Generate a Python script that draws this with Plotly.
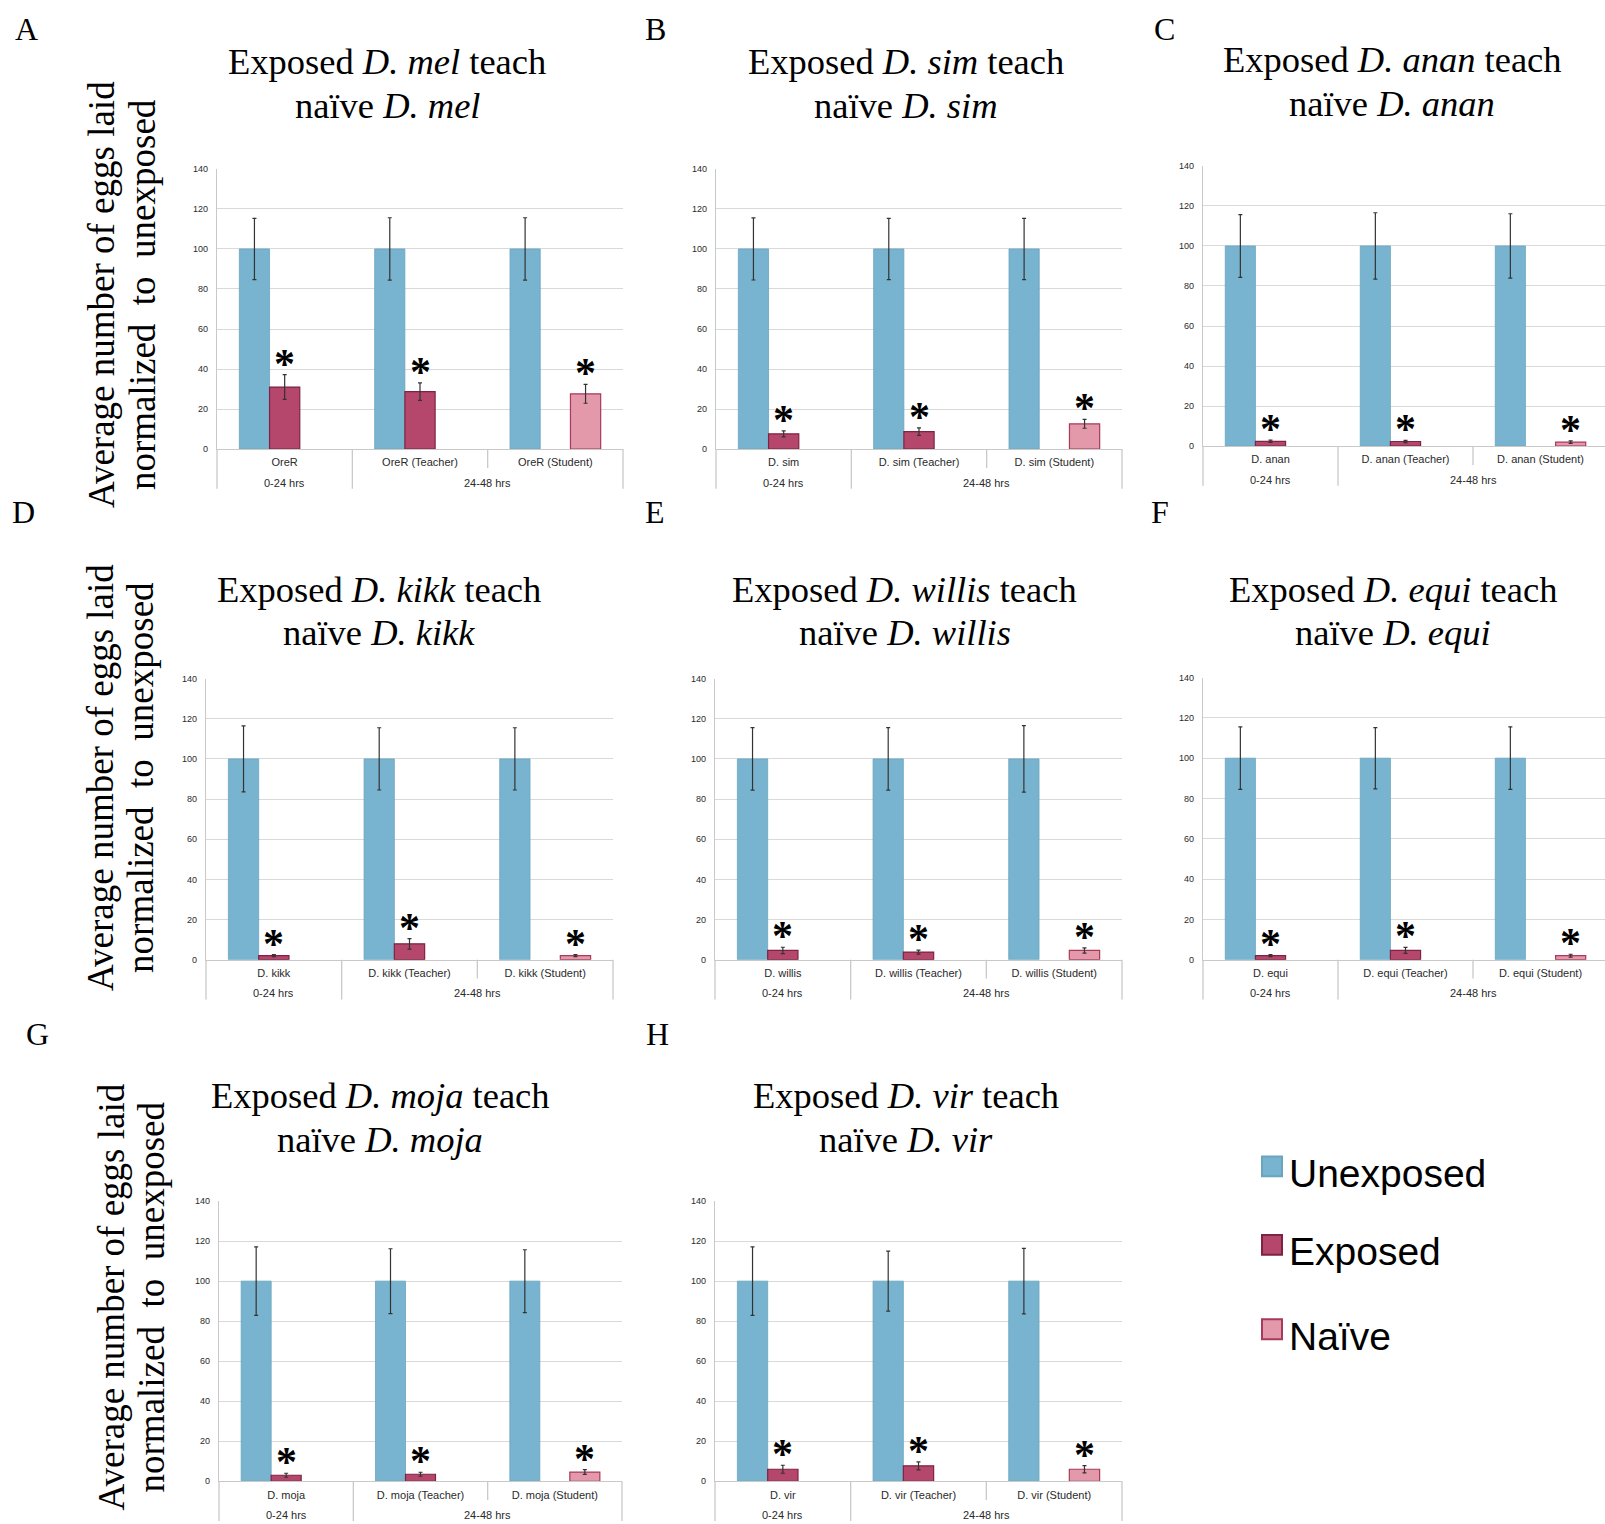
import plotly.graph_objects as go

FIG_W, FIG_H = 1605, 1524

# ---------------------------------------------------------------- data
panel_letters = ["A", "B", "C", "D", "E", "F", "G", "H"]
title_species = ["D. mel", "D. sim", "D. anan", "D. kikk",
                 "D. willis", "D. equi", "D. moja", "D. vir"]
strain_labels = ["OreR", "D. sim", "D. anan", "D. kikk",
                 "D. willis", "D. equi", "D. moja", "D. vir"]
role_suffixes = ["", " (Teacher)", " (Student)"]
time_windows = ["0-24 hrs", "24-48 hrs"]          # outer category row
time_window_span = [[0, 0], [1, 2]]                # categories under each window

# eggs laid, normalized to the unexposed condition (= 100)
unexposed = [
    [100, 100, 100], [100, 100, 100], [100, 100, 100], [100, 100, 100],
    [100, 100, 100], [100, 100, 100], [100, 100, 100], [100, 100, 100],
]
unexposed_err = [
    [15.3, 15.6, 15.6],
    [15.5, 15.3, 15.3],
    [15.7, 16.6, 16.1],
    [16.4, 15.5, 15.5],
    [15.6, 15.6, 16.6],
    [15.5, 15.2, 15.5],
    [17.1, 16.2, 15.7],
    [17.1, 15.0, 16.4],
]
# exposed flies: 0-24 hrs and 24-48 hrs (teacher)
exposed = [[31.0, 28.7], [7.6, 8.7], [2.4, 2.3], [2.0, 7.9],
           [4.6, 3.8], [2.0, 4.6], [3.0, 3.5], [6.0, 7.7]]
exposed_err = [[6.2, 4.4], [1.5, 1.9], [0.6, 0.6], [0.5, 2.6],
               [1.6, 1.0], [0.5, 1.5], [1.0, 1.0], [2.0, 2.0]]
# naive flies taught by the exposed teachers (student)
naive = [27.6, 12.6, 2.0, 2.0, 4.6, 2.0, 4.6, 6.0]
naive_err = [4.7, 2.2, 0.6, 0.5, 1.3, 0.7, 1.2, 1.8]

legend_names = ["Unexposed", "Exposed", "Naïve"]

# ---------------------------------------------------------------- style
BLUE, BLUE_EDGE = "#78b4cf", "#6aa4bf"
RED, RED_EDGE = "#b4476b", "#7d2343"
PINK, PINK_EDGE = "#e399aa", "#a83a5c"
AXIS_GREY = "#c9c9c9"
GRID_GREY = "#d9d9d9"
ERR_COLOR = "#333333"
LABEL_COLOR = "#2a2a2a"
SERIF = "Liberation Serif, Times New Roman, serif"
SANS = "Liberation Sans, Arial, Helvetica, sans-serif"
BARGAP = 0.33
SLOT = (1 - BARGAP) / 3

# plot-area boxes in pixels: (left, right, top, bottom)
plot_boxes = [
    (217, 623, 165, 447),
    (716, 1122, 165, 447),
    (1203, 1608, 162, 444),
    (206, 613, 678, 961),
    (715, 1122, 678, 961),
    (1203, 1608, 677, 961),
    (219, 622, 1204, 1486),
    (715, 1122, 1204, 1486),
]
title_centers = [(387, 57), (906, 57), (1392, 55),
                 (379, 588), (905, 588), (1393, 588),
                 (380, 1098), (906, 1098)]
letter_pos = [(26, 24), (655, 24), (1164, 24),
              (23, 510), (655, 510), (1160, 510),
              (37, 1036), (657, 1036)]
# (x of line 1, x of line 2, vertical centre) for each row's y title
ytitle_rows = [(101, 142, 292), (101, 141, 778), (111, 151, 1301)]
TITLE_LINE_GAP = 44
OUTER_LABEL_DROP = 34      # px below the zero line
DIVIDER_FULL = 40          # px, dividers between time windows
DIVIDER_INNER = 19         # px, divider between teacher / student


def px(x):
    return x / FIG_W


def py(y):
    return 1 - y / FIG_H


def err_style(values):
    return dict(type="data", array=values, visible=True,
                color=ERR_COLOR, thickness=1.2, width=2)


fig = go.Figure()
layout = dict(
    width=FIG_W, height=FIG_H, autosize=False,
    margin=dict(l=0, r=0, t=0, b=0),
    paper_bgcolor="white", plot_bgcolor="white",
    barmode="group", bargap=BARGAP, bargroupgap=0,
    showlegend=False,
)
annotations = []
shapes = []

for i in range(8):
    sfx = "" if i == 0 else str(i + 1)
    xa, ya = "x" + sfx, "y" + sfx
    cats = [strain_labels[i] + r for r in role_suffixes]

    fig.add_trace(go.Bar(
        x=cats, y=unexposed[i], name=legend_names[0],
        marker=dict(color=BLUE, line=dict(color=BLUE_EDGE, width=0.8)),
        error_y=err_style(unexposed_err[i]), xaxis=xa, yaxis=ya,
    ))
    fig.add_trace(go.Bar(
        x=cats, y=exposed[i] + [None], name=legend_names[1],
        marker=dict(color=RED, line=dict(color=RED_EDGE, width=1.2)),
        error_y=err_style(exposed_err[i] + [0]), xaxis=xa, yaxis=ya,
    ))
    fig.add_trace(go.Bar(
        x=cats, y=[None, None, naive[i]], name=legend_names[2],
        marker=dict(color=PINK, line=dict(color=PINK_EDGE, width=1.2)),
        error_y=err_style([0, 0, naive_err[i]]), xaxis=xa, yaxis=ya,
    ))

    x0, x1, yt, yb = plot_boxes[i]
    ph = yb - yt
    vis_x1 = min(x1, FIG_W)
    frac = (vis_x1 - x0) / (x1 - x0)
    clipped_right = frac < 1
    layout["xaxis" + sfx] = dict(
        domain=[px(x0), px(vis_x1)], anchor=ya, type="category",
        range=[-0.5, -0.5 + 3 * frac],
        showgrid=False, showline=True, linecolor=AXIS_GREY, linewidth=1.3,
        zeroline=False, ticks="", ticklabelstandoff=3,
        tickfont=dict(family=SANS, size=11, color=LABEL_COLOR),
        fixedrange=True,
    )
    layout["yaxis" + sfx] = dict(
        domain=[py(yb), py(yt)], anchor=xa, range=[0, 140],
        tickmode="array", tickvals=[0, 20, 40, 60, 80, 100, 120, 140],
        showgrid=True, gridcolor=GRID_GREY, gridwidth=1.3,
        showline=True, linecolor=AXIS_GREY, linewidth=1.3, zeroline=False,
        ticks="", ticklabelstandoff=6,
        tickfont=dict(family=SANS, size=9, color=LABEL_COLOR),
        fixedrange=True,
    )

    # outer category row: time windows
    for label, (c0, c1) in zip(time_windows, time_window_span):
        annotations.append(dict(
            x=(c0 + c1) / 2, y=-OUTER_LABEL_DROP / ph, xref=xa,
            yref=ya + " domain", text=label, showarrow=False,
            xanchor="center", yanchor="middle",
            font=dict(family=SANS, size=11, color=LABEL_COLOR),
        ))

    # category dividers below the zero line
    edge_refs = [0] if clipped_right else [0, 1]
    for e in edge_refs:
        shapes.append(dict(
            type="line", xref=xa + " domain", yref=ya + " domain",
            x0=e, x1=e, y0=0, y1=-DIVIDER_FULL / ph,
            line=dict(color=AXIS_GREY, width=1.3),
        ))
    shapes.append(dict(
        type="line", xref=xa, yref=ya + " domain",
        x0=0.5, x1=0.5, y0=0, y1=-DIVIDER_FULL / ph,
        line=dict(color=AXIS_GREY, width=1.3),
    ))
    shapes.append(dict(
        type="line", xref=xa, yref=ya + " domain",
        x0=1.5, x1=1.5, y0=0, y1=-DIVIDER_INNER / ph,
        line=dict(color=AXIS_GREY, width=1.3),
    ))

    # significance stars above the exposed / naive bars
    star_pts = [(0, exposed[i][0] + exposed_err[i][0]),
                (1, exposed[i][1] + exposed_err[i][1]),
                (2 + SLOT, naive[i] + naive_err[i])]
    for sx, sy in star_pts:
        annotations.append(dict(
            x=sx, y=sy, xref=xa, yref=ya, text="<b>*</b>", showarrow=False,
            xanchor="center", yanchor="middle", yshift=11,
            font=dict(family=SERIF, size=42, color="black"),
        ))

    # two-line panel title
    cx, cy = title_centers[i]
    sp = title_species[i]
    annotations.append(dict(
        x=px(cx), y=py(cy), xref="paper", yref="paper", showarrow=False,
        text=f"Exposed <i>{sp}</i> teach", xanchor="center", yanchor="middle",
        font=dict(family=SERIF, size=36.5, color="black"),
    ))
    annotations.append(dict(
        x=px(cx), y=py(cy + TITLE_LINE_GAP), xref="paper", yref="paper",
        showarrow=False, text=f"naïve <i>{sp}</i>",
        xanchor="center", yanchor="middle",
        font=dict(family=SERIF, size=36.5, color="black"),
    ))

    # panel letter
    lx, ly = letter_pos[i]
    annotations.append(dict(
        x=px(lx), y=py(ly), xref="paper", yref="paper", showarrow=False,
        text=panel_letters[i], xanchor="center", yanchor="middle",
        font=dict(family=SERIF, size=32, color="black"),
    ))

# shared y-axis title for each row
for lx1, lx2, cy in ytitle_rows:
    annotations.append(dict(
        x=px(lx1), y=py(cy), xref="paper", yref="paper", showarrow=False,
        text="Average number of eggs laid", textangle=-90,
        xanchor="center", yanchor="middle",
        font=dict(family=SERIF, size=37, color="black"),
    ))
    annotations.append(dict(
        x=px(lx2), y=py(cy), xref="paper", yref="paper", showarrow=False,
        text="normalized  to  unexposed", textangle=-90,
        xanchor="center", yanchor="middle",
        font=dict(family=SERIF, size=37, color="black"),
    ))

# legend block drawn as swatches + labels
legend_rows = [(1169, BLUE, BLUE_EDGE), (1248, RED, RED_EDGE), (1333, PINK, PINK_EDGE)]
for name, (cy, fill, edge) in zip(legend_names, legend_rows):
    shapes.append(dict(
        type="rect", xref="paper", yref="paper",
        x0=px(1262), x1=px(1282), y0=py(cy + 10), y1=py(cy - 10),
        fillcolor=fill, line=dict(color=edge, width=2),
    ))
    annotations.append(dict(
        x=px(1287), y=py(cy + 7), xref="paper", yref="paper", showarrow=False,
        text=name, xanchor="left", yanchor="middle",
        font=dict(family=SANS, size=39, color="black"),
    ))

layout["annotations"] = annotations
layout["shapes"] = shapes
fig.update_layout(**layout)

fig.write_html("out.html")
